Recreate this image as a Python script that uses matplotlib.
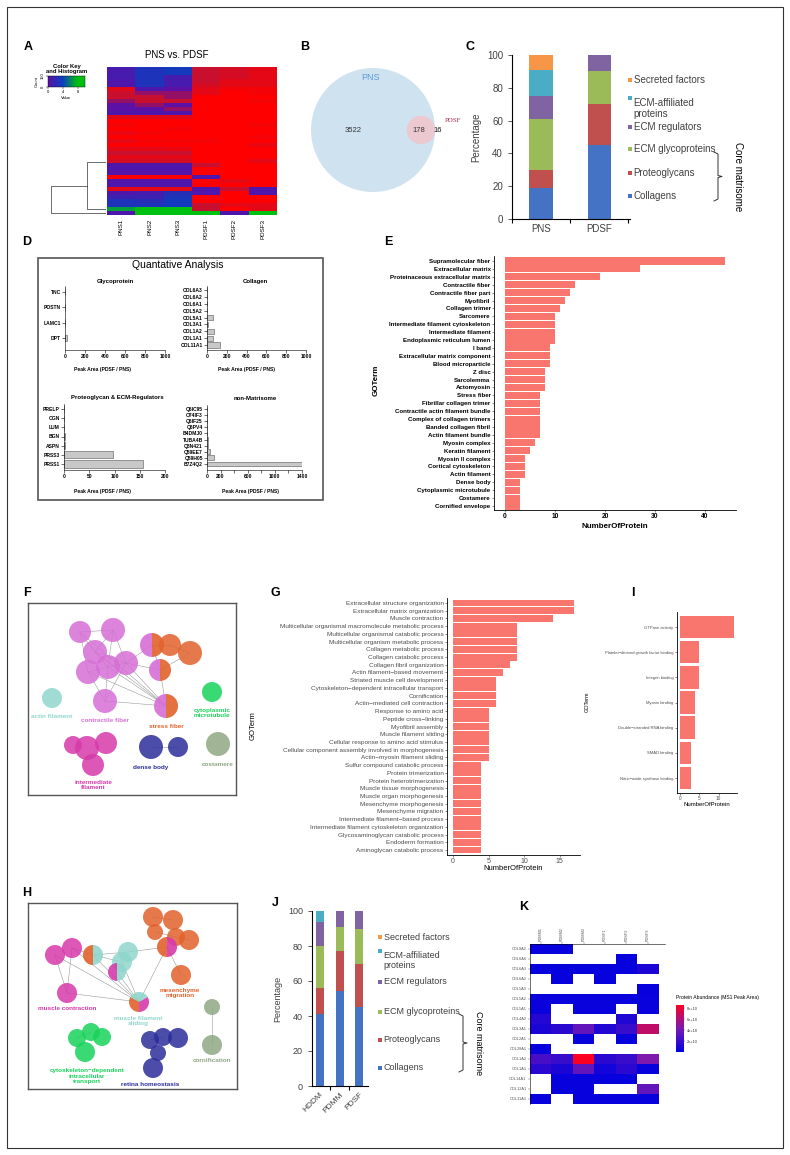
import numpy as np
import matplotlib
matplotlib.use("Agg")
import matplotlib.pyplot as plt
from matplotlib.patches import Rectangle, Circle, Wedge
from matplotlib.colors import LinearSegmentedColormap, Normalize

plt.rcParams['font.family'] = ['Liberation Sans', 'DejaVu Sans']

# ---------------- data ----------------
heat_cols = ['PNS1', 'PNS2', 'PNS3', 'PDSF1', 'PDSF2', 'PDSF3']
heat_vals = [
    [1.0, 3.0, 3.5, -1.0, -1.2, -1.5],
    [1.0, 3.0, 3.5, -1.0, -1.2, -1.5],
    [1.0, 3.0, 1.0, -1.0, -1.2, -1.5],
    [0.5, 3.0, 1.0, -1.0, -1.5, -1.5],
    [0.5, 3.0, 1.0, -1.2, -1.5, -1.5],
    [-1.5, 0.5, 0.0, -1.5, -1.8, -1.8],
    [-1.0, -0.5, -0.5, -1.5, -2.0, -1.8],
    [-1.0, -1.0, -0.5, -2.0, -2.0, -2.0],
    [-0.5, -1.0, -1.0, -2.0, -2.0, -1.8],
    [0.0, -0.5, 0.0, -2.0, -2.0, -2.0],
    [0.0, 0.0, -0.5, -2.0, -2.0, -2.0],
    [0.5, 0.5, 0.5, -2.0, -2.0, -2.0],
    [-1.5, -1.5, -1.5, -2.0, -2.0, -2.0],
    [-2.0, -2.0, -2.0, -2.0, -2.0, -2.0],
    [-1.8, -2.0, -2.0, -2.0, -2.0, -1.8],
    [-2.0, -2.0, -1.8, -2.0, -2.0, -2.0],
    [-1.6, -1.8, -2.0, -2.0, -2.0, -2.0],
    [-2.0, -2.0, -2.0, -2.0, -2.0, -1.8],
    [-1.5, -1.8, -1.8, -1.8, -2.0, -2.0],
    [-2.0, -2.0, -2.0, -2.0, -2.0, -1.6],
    [-1.5, -1.5, -1.6, -2.0, -2.0, -2.0],
    [-1.0, -1.0, -1.0, -2.0, -2.0, -2.0],
    [-1.5, -1.5, -1.5, -2.0, -2.0, -2.0],
    [-1.2, -1.2, -1.2, -2.0, -2.0, -1.5],
    [0.5, 0.5, 0.5, -1.0, -2.0, -2.0],
    [0.5, 0.5, 0.5, -2.0, -2.0, -2.0],
    [0.3, 0.3, 0.3, -2.0, -2.0, -2.0],
    [-2.0, -2.0, -2.0, 0.5, -2.0, -2.0],
    [0.5, 0.5, 0.5, -2.0, -1.5, -2.0],
    [0.5, 0.5, 0.5, -2.0, -2.0, -2.0],
    [-1.5, -1.5, -1.5, 0.5, -1.0, 0.5],
    [0.5, 1.0, 2.5, 0.5, -2.0, 0.5],
    [1.5, 1.5, 3.0, -2.0, -2.0, -2.0],
    [3.0, 2.5, 3.5, -2.0, -2.0, -2.0],
    [3.0, 3.0, 3.5, -1.0, -1.5, -1.5],
    [7.0, 8.0, 8.0, -1.0, -2.0, -1.5],
    [0.5, 8.0, 8.0, 8.0, 0.5, 8.0],
]

venn_only_pns = 3522
venn_shared = 178
venn_only_pdsf = 16

matrisome_cats = ['Collagens', 'Proteoglycans', 'ECM glycoproteins',
                  'ECM regulators', 'ECM-affiliated\nproteins', 'Secreted factors']
matrisome_colors = ['#4472C4', '#C0504D', '#9BBB59', '#8064A2', '#4BACC6', '#F79646']
c_groups = ['PNS', 'PDSF']
pns_pct = [19, 11, 31, 14, 16, 9]
pdsf_pct = [45, 25, 20, 10, 0, 0]

j_groups = ['HDDM', 'PDMM', 'PDSF']
hddm_pct = [41, 15, 24, 14, 6, 0]
pdmm_pct = [54.5, 22.5, 14, 9, 0, 0]

glyco_names = ['TNC', 'POSTN', 'LAMC1', 'DPT']
glyco_vals = [2, 2, 3, 22]
coll_names = ['COL6A3', 'COL6A2', 'COL6A1', 'COL5A2', 'COL5A1', 'COL3A1', 'COL1A2', 'COL1A1', 'COL11A1']
coll_vals = [3, 3, 3, 3, 60, 12, 70, 62, 128]
prot_names = ['PRELP', 'OGN', 'LUM', 'BGN', 'ASPN', 'PRSS3', 'PRSS1']
prot_vals = [0.8, 0.8, 0.8, 1.0, 1.2, 97, 156]
nonm_names = ['Q6IC95', 'O74IF3', 'Q6IF25', 'Q6PV4', 'B4DMJ0', 'TUBA4B', 'Q8N421', 'Q59EE7', 'Q59H05', 'B7Z4Q2']
nonm_vals = [3, 3, 3, 3, 5, 8, 10, 45, 110, 1400]

e_terms = ['Supramolecular fiber', 'Extracellular matrix', 'Proteinaceous extracellular matrix',
           'Contractile fiber', 'Contractile fiber part', 'Myofibril', 'Collagen trimer', 'Sarcomere',
           'Intermediate filament cytoskeleton', 'Intermediate filament', 'Endoplasmic reticulum lumen',
           'I band', 'Extracellular matrix component', 'Blood microparticle', 'Z disc', 'Sarcolemma',
           'Actomyosin', 'Stress fiber', 'Fibrillar collagen trimer', 'Contractile actin filament bundle',
           'Complex of collagen trimers', 'Banded collagen fibril', 'Actin filament bundle', 'Myosin complex',
           'Keratin filament', 'Myosin II complex', 'Cortical cytoskeleton', 'Actin filament', 'Dense body',
           'Cytoplasmic microtubule', 'Costamere', 'Cornified envelope']
e_counts = [44, 27, 19, 14, 13, 12, 11, 10, 10, 10, 10, 9, 9, 9, 8, 8, 8, 7, 7, 7, 7, 7, 7, 6, 5, 4, 4, 4,
            3, 3, 3, 3]

g_terms = ['Extracellular structure organization', 'Extracellular matrix organization', 'Muscle contraction',
           'Multicellular organismal macromolecule metabolic process',
           'Multicellular organismal catabolic process', 'Multicellular organism metabolic process',
           'Collagen metabolic process', 'Collagen catabolic process', 'Collagen fibril organization',
           'Actin filament\u2212based movement', 'Striated muscle cell development',
           'Cytoskeleton\u2212dependent intracellular transport', 'Cornification',
           'Actin\u2212mediated cell contraction', 'Response to amino acid', 'Peptide cross\u2212linking',
           'Myofibril assembly', 'Muscle filament sliding', 'Cellular response to amino acid stimulus',
           'Cellular component assembly involved in morphogenesis', 'Actin\u2212myosin filament sliding',
           'Sulfur compound catabolic process', 'Protein trimerization', 'Protein heterotrimerization',
           'Muscle tissue morphogenesis', 'Muscle organ morphogenesis', 'Mesenchyme morphogenesis',
           'Mesenchyme migration', 'Intermediate filament\u2212based process',
           'Intermediate filament cytoskeleton organization', 'Glycosaminoglycan catabolic process',
           'Endoderm formation', 'Aminoglycan catabolic process']
g_counts = [17, 17, 14, 9, 9, 9, 9, 9, 8, 7, 6, 6, 6, 6, 5, 5, 5, 5, 5, 5, 5, 4, 4, 4, 4, 4, 4, 4, 4, 4,
            4, 4, 4]

i_terms = ['GTPase activity', 'Platelet\u2212derived growth factor binding', 'Integrin binding',
           'Myosin binding', 'Double\u2212stranded RNA binding', 'SMAD binding', 'Nitric\u2212oxide synthase binding']
i_counts = [14, 5, 5, 4, 4, 3, 3]

k_cols = ['PDMM1', 'PDMM2', 'PDMM3', 'PDSF1', 'PDSF2', 'PDSF3']
k_rows = ['COL8A2', 'COL6A6', 'COL6A3', 'COL6A2', 'COL5A3', 'COL5A2', 'COL5A1', 'COL4A2', 'COL3A1',
          'COL2A1', 'COL28A1', 'COL1A2', 'COL1A1', 'COL14A1', 'COL12A1', 'COL11A1']
nan = np.nan
k_vals = [  # MS1 peak area, x 1e10
    [0.3, 0.3, nan, nan, nan, nan],
    [nan, nan, nan, nan, 0.3, nan],
    [0.3, 0.3, 0.3, 0.3, 0.3, 1.0],
    [nan, 0.3, nan, 0.3, nan, nan],
    [nan, nan, nan, nan, nan, 0.3],
    [0.4, 0.4, 0.4, 0.4, 0.4, 0.4],
    [0.4, nan, 0.4, 0.4, nan, 0.4],
    [1.3, nan, nan, nan, 1.2, nan],
    [1.0, 1.5, 3.5, 1.2, 2.0, 6.5],
    [nan, nan, 0.3, nan, 0.3, nan],
    [0.3, nan, nan, nan, nan, nan],
    [2.5, 2.0, 8.5, 1.5, 2.0, 4.5],
    [1.5, 1.0, 3.5, 0.7, 1.5, 0.3],
    [nan, 0.3, 0.3, 0.3, 0.3, nan],
    [nan, 0.3, 0.3, nan, nan, 3.5],
    [0.3, nan, 0.3, 0.3, 0.3, 0.3],
]

# network layouts (pixels inside the box): x, y, radius, colour keys
violet, orange, teal, green = '#d66fd6', '#e2622b', '#8fd6cc', '#19d35a'
magenta, navy, sage = '#d63aaa', '#2b2e9a', '#8fa784'
f_nodes = [
    (52, 29, 11, [violet]), (85, 27, 12, [violet]), (67, 49, 12, [violet]), (60, 69, 12, [violet]),
    (80, 64, 12, [violet]), (98, 60, 12, [violet]), (124, 42, 12, [violet, orange]),
    (132, 67, 11, [violet, orange]), (142, 42, 11, [orange]), (162, 50, 12, [orange]),
    (138, 103, 12, [violet, orange]), (77, 98, 12, [violet]), (24, 95, 10, [teal]),
    (184, 89, 10, [green]), (45, 142, 9, [magenta]), (59, 145, 12, [magenta]), (78, 140, 11, [magenta]),
    (65, 162, 11, [magenta]), (123, 144, 12, [navy]), (150, 144, 10, [navy]), (190, 141, 12, [sage]),
]
f_edges = [(0, 1), (0, 2), (0, 3), (1, 2), (1, 4), (1, 5), (2, 4), (2, 5), (3, 4), (3, 11), (4, 5), (4, 11),
           (5, 6), (5, 7), (5, 11), (6, 7), (6, 8), (7, 9), (8, 9), (0, 10), (2, 10), (3, 10), (4, 10),
           (5, 10), (7, 10), (11, 10), (18, 19)]
f_labels = [(24, 113, 'actin filament', teal), (77, 118, 'contractile fiber', violet),
            (138, 124, 'stress fiber', orange), (184, 110, 'cytoplasmic\nmicrotubule', green),
            (65, 182, 'intermediate\nfilament', magenta), (123, 165, 'dense body', navy),
            (190, 161, 'costamere', sage)]

h_nodes = [
    (125, 14, 10, [orange]), (145, 17, 10, [orange]), (127, 29, 8, [orange]), (148, 34, 9, [orange]),
    (161, 37, 10, [orange]), (153, 72, 10, [orange]), (139, 44, 10, [orange, magenta]),
    (27, 52, 10, [magenta]), (44, 45, 10, [magenta]), (39, 90, 10, [magenta]),
    (65, 52, 10, [orange, teal]), (100, 49, 10, [teal]), (94, 59, 10, [teal]),
    (89, 69, 9, [magenta, teal]), (111, 99, 10, [orange, teal, magenta]),
    (184, 104, 8, [sage]), (184, 142, 10, [sage]),
    (49, 135, 9, [green]), (63, 129, 9, [green]), (74, 134, 9, [green]), (57, 149, 10, [green]),
    (122, 137, 9, [navy]), (135, 134, 9, [navy]), (150, 135, 10, [navy]), (130, 150, 8, [navy]),
    (125, 165, 10, [navy]),
]
h_edges = [(7, 14), (8, 14), (10, 14), (9, 14), (7, 9), (8, 9), (8, 10), (10, 12), (11, 6), (14, 6),
           (5, 6), (0, 1), (2, 3), (3, 4), (12, 14), (13, 14), (15, 16), (10, 11), (17, 18), (21, 22)]
h_labels = [(152, 90, 'mesenchyme\nmigration', orange), (39, 106, 'muscle contraction', magenta),
            (110, 118, 'muscle filament\nsliding', teal), (184, 158, 'cornification', sage),
            (59, 173, 'cytoskeleton\u2212dependent\nintracellular\ntransport', green),
            (122, 181, 'retina homeostasis', navy)]

# ---------------- figure ----------------
W, H = 790, 1155
fig = plt.figure(figsize=(W / 100, H / 100), dpi=100)


def px_axes(x0, y0, x1, y1):
    return fig.add_axes([x0 / W, 1 - y1 / H, (x1 - x0) / W, (y1 - y0) / H])


def rows_axes(x0, x1, first_y, last_y, n, top_pad, bot_pad):
    s = (last_y - first_y) / (n - 1)
    ax = px_axes(x0, first_y - top_pad, x1, last_y + bot_pad)
    ax.set_ylim(n - 1 + bot_pad / s, -top_pad / s)
    return ax


canvas = px_axes(0, 0, W, H)
canvas.set_xlim(0, W)
canvas.set_ylim(H, 0)
canvas.axis('off')
canvas.set_zorder(10)
canvas.patch.set_alpha(0)
canvas.add_patch(Rectangle((7, 7), 776, 1141, fill=False, ec='#333333', lw=0.8))

for letter, x, y in [('A', 28, 47), ('B', 305, 47), ('C', 470, 47), ('D', 27, 242), ('E', 388, 242),
                     ('F', 27, 593), ('G', 275, 593), ('I', 633, 593), ('H', 27, 893), ('J', 275, 903),
                     ('K', 524, 907)]:
    canvas.text(x, y, letter, fontsize=9, fontweight='bold', ha='center', va='center')

# ---- A: heatmap ----
hm = np.array(heat_vals)
heat_cmap = LinearSegmentedColormap.from_list('heat', [
    (0.0, '#ff0000'), (1 / 11, '#c8102e'), (2 / 11, '#5a10a8'), (6 / 11, '#0a40c0'),
    (10 / 11, '#00c010'), (1.0, '#00c010')])
heat_norm = Normalize(-2, 9)
ax = px_axes(107, 67, 277, 215)
ax.imshow(hm, cmap=heat_cmap, norm=heat_norm, aspect='auto', interpolation='nearest',
          extent=(0, hm.shape[1], hm.shape[0], 0))
ax.set_yticks([])
ax.set_xticks(np.arange(hm.shape[1]) + 0.5)
ax.set_xticklabels(heat_cols, rotation=90, fontsize=4.5)
ax.tick_params(axis='x', length=0, pad=3)
for s in ax.spines.values():
    s.set_visible(False)
canvas.text(177, 55, 'PNS vs. PDSF', fontsize=7, ha='center', va='center')

# dendrogram: merge neighbouring rows step by step (heights compressed like hclust display)
dax = px_axes(50, 67, 106, 215)
clusters = [(r.copy(), i + 0.5, 0.0, 1) for i, r in enumerate(hm)]
hmax = 0
while len(clusters) > 1:
    d = [np.linalg.norm(clusters[i][0] - clusters[i + 1][0]) for i in range(len(clusters) - 1)]
    k = int(np.argmin(d))
    (m1, y1, h1, n1), (m2, y2, h2, n2) = clusters[k], clusters[k + 1]
    h = max(d[k] ** 4, h1, h2)
    dax.plot([h1, h, h, h2], [y1, y1, y2, y2], color='k', lw=0.4)
    clusters[k:k + 2] = [((m1 * n1 + m2 * n2) / (n1 + n2), (y1 + y2) / 2, h, n1 + n2)]
    hmax = h
dax.set_xlim(hmax * 1.02, 0)
dax.set_ylim(hm.shape[0], 0)
dax.axis('off')

# colour key
kax = px_axes(48, 76, 85, 87)
kax.imshow(np.linspace(0, 10, 100)[None, :], cmap=heat_cmap, norm=heat_norm, aspect='auto',
           extent=(0, 10, 0, 1))
kax.set_xticks([0, 4, 8])
kax.set_yticks([0, 1])
kax.set_yticklabels(['0', '150'], rotation=90, va='center')
kax.tick_params(labelsize=3, length=1.5, width=0.3, pad=1)
kax.set_xlabel('Value', fontsize=3, labelpad=1)
kax.set_ylabel('Count', fontsize=3, labelpad=1)
for s in kax.spines.values():
    s.set_linewidth(0.3)
canvas.text(67, 69, 'Color Key\nand Histogram', fontsize=4.2, fontweight='bold', ha='center',
            va='center', linespacing=1.0)

# ---- B: venn ----
scale = 62 / np.sqrt(venn_only_pns + venn_shared)
r_big = scale * np.sqrt(venn_only_pns + venn_shared)
r_small = scale * np.sqrt(venn_shared + venn_only_pdsf)
cx, cy = 373, 130
canvas.add_patch(Circle((cx, cy), r_big, color='#cfe2f0', lw=0))
canvas.add_patch(Circle((cx + 48, cy), r_small, color='#f2c4cb', alpha=0.85, lw=0))
canvas.text(cx - 3, 77, 'PNS', color='#5b9bd5', fontsize=6.5, ha='center', va='center')
canvas.text(445, 120, 'PDSF', color='#a0304a', fontsize=5, family='Liberation Serif', ha='left',
            va='center')
canvas.text(353, 131, str(venn_only_pns), fontsize=5.5, ha='center', va='center', color='#333333')
canvas.text(419, 131, str(venn_shared), fontsize=5.5, ha='center', va='center', color='#333333')
canvas.text(438, 131, str(venn_only_pdsf), fontsize=5.5, ha='center', va='center', color='#111111')


# ---- C / J stacked bars ----
def stacked(ax, groups, series, width):
    x = np.arange(len(groups))
    bottom = np.zeros(len(groups))
    for ci, col in enumerate(matrisome_colors):
        vals = np.array([s[ci] for s in series])
        ax.bar(x, vals, width, bottom=bottom, color=col, lw=0)
        bottom += vals
    ax.set_ylim(0, 100)
    ax.set_yticks(range(0, 101, 20))
    ax.set_xticks(x)
    ax.set_xticks(np.arange(len(groups) + 1) - 0.5, minor=True)
    ax.tick_params(axis='x', which='major', length=0)
    ax.tick_params(axis='x', which='minor', length=3, width=0.8)
    ax.tick_params(axis='y', length=3, width=0.6, colors='#404040')
    for s in ['top', 'right']:
        ax.spines[s].set_visible(False)
    for s in ['left', 'bottom']:
        ax.spines[s].set_linewidth(0.8)
    ax.set_ylabel('Percentage', fontsize=7, color='#404040')


def matrisome_legend(x, ys, fs, bracket_x, b_top, b_bot, core_x):
    for cat, col, y in zip(matrisome_cats[::-1], matrisome_colors[::-1], ys):
        canvas.add_patch(Rectangle((x, y - 2), 4, 4, color=col, lw=0))
        canvas.text(x + 5.5, y, cat, fontsize=fs, va='top' if '\n' in cat else 'center',
                    color='#404040', linespacing=1.1)
    mid = (b_top + b_bot) / 2
    canvas.plot([bracket_x - 4, bracket_x, bracket_x, bracket_x + 4, bracket_x, bracket_x, bracket_x - 4],
                [b_top, b_top + 2, mid - 1, mid, mid + 1, b_bot - 2, b_bot], color='#333333', lw=0.7)
    canvas.text(core_x, mid, 'Core matrisome', rotation=270, fontsize=fs, ha='center', va='center')


ax = px_axes(512, 55, 630, 219)
stacked(ax, c_groups, [pns_pct, pdsf_pct], 0.4)
ax.set_xlim(-0.5, 1.53)
ax.set_xticklabels(c_groups, fontsize=7, color='#404040')
ax.tick_params(axis='y', labelsize=7)
matrisome_legend(628, [80, 98, 127, 149, 173, 196], 7, 718, 152, 201, 738)

ax = px_axes(312, 911, 368, 1086)
stacked(ax, j_groups, [hddm_pct, pdmm_pct, pdsf_pct], 0.41)
ax.set_xlim(-0.41, 2.46)
ax.set_xticklabels(j_groups, fontsize=6, rotation=45, ha='right', rotation_mode='anchor',
                   color='#404040')
ax.tick_params(axis='y', labelsize=6.5)
ax.yaxis.label.set_size(6.5)
matrisome_legend(378, [937, 951, 982, 1012, 1040, 1068], 6.5, 463, 1014, 1072, 478)

# ---- D: quantitative analysis ----
canvas.add_patch(Rectangle((38, 258), 285, 242, fill=False, ec='#555555', lw=1.2))
canvas.text(178, 265, 'Quantative Analysis', fontsize=7.5, ha='center', va='center')


def quant(x0, x1, fy, ly, tp, bp, names, vals, xmax, ticks, labels, bh):
    ax = rows_axes(x0, x1, fy, ly, len(names), tp, bp)
    ax.barh(range(len(names)), vals, height=bh, color='#c8c8c8', edgecolor='#555555', lw=0.4)
    ax.set_xlim(0, xmax)
    ax.set_yticks(range(len(names)))
    ax.set_yticklabels(names)
    ax.set_xticks(ticks)
    ax.set_xticklabels(labels)
    ax.tick_params(labelsize=3.6, length=2, width=0.4, pad=1)
    for t in ax.get_xticklabels() + ax.get_yticklabels():
        t.set_fontweight('bold')
    for s in ['top', 'right']:
        ax.spines[s].set_visible(False)
    for s in ['left', 'bottom']:
        ax.spines[s].set_linewidth(0.4)
    return ax


quant(65, 165, 292, 338, 6, 12, glyco_names, glyco_vals, 1000, range(0, 1001, 200),
      [str(v) for v in range(0, 1001, 200)], 0.45)
quant(207, 306, 290, 345, 4, 5, coll_names, coll_vals, 1000, range(0, 1001, 200),
      [str(v) for v in range(0, 1001, 200)], 0.75)
quant(64, 165, 409, 464, 5, 6, prot_names, prot_vals, 200, range(0, 201, 50),
      [str(v) for v in range(0, 201, 50)], 0.8)
quant(207, 302, 409, 464, 4, 6, nonm_names, nonm_vals, 1400, range(0, 1401, 200),
      ['0', '200', '', '600', '', '1000', '', '1400'], 0.8)
for x, y, t in [(115, 281, 'Glycoprotein'), (255, 281, 'Collagen'),
                (117, 398, 'Proteoglycan & ECM-Regulators'), (255, 398, 'non-Matrisome')]:
    canvas.text(x, y, t, fontsize=4.3, fontweight='bold', ha='center', va='center')
for x, y in [(102, 370), (247, 370), (102, 491), (250, 491)]:
    canvas.text(x, y, 'Peak Area (PDSF / PNS)', fontsize=3.6, fontweight='bold', ha='center', va='center')


# ---- E / G / I : GO term bars ----
def go_bars(ax, terms, counts, xmax, ticks, fs, tcol, bold):
    ax.barh(range(len(terms)), counts, height=0.9, color='#F8766D', lw=0)
    ax.set_xlim(-xmax * 0.05, xmax * 1.05)
    ax.set_yticks(range(len(terms)))
    ax.set_yticklabels(terms)
    ax.set_xticks(ticks)
    ax.tick_params(axis='y', labelsize=fs, length=1.5, width=0.4, pad=1, colors=tcol)
    ax.tick_params(axis='x', labelsize=fs + 0.4, length=1.5, width=0.4, pad=1, colors=tcol)
    ax.tick_params(axis='both', color='#333333')
    if bold:
        for t in ax.get_xticklabels() + ax.get_yticklabels():
            t.set_fontweight('bold')
    for s in ['top', 'right']:
        ax.spines[s].set_visible(False)
    for s in ['left', 'bottom']:
        ax.spines[s].set_linewidth(0.6)


ax = rows_axes(494, 736, 261, 506, len(e_terms), 5, 4)
go_bars(ax, e_terms, e_counts, 44, [0, 10, 20, 30, 40], 4.4, 'black', True)
canvas.text(615, 526, 'NumberOfProtein', fontsize=5.8, fontweight='bold', ha='center', va='center')
canvas.text(376, 380, 'GOTerm', fontsize=5.8, fontweight='bold', rotation=90, ha='center', va='center')

ax = rows_axes(447, 580, 603, 850, len(g_terms), 5, 5)
go_bars(ax, g_terms, g_counts, 17, [0, 5, 10, 15], 4.6, '#4d4d4d', False)
canvas.text(513, 868, 'NumberOfProtein', fontsize=5.5, ha='center', va='center')
canvas.text(253, 726, 'GOTerm', fontsize=5.5, rotation=90, ha='center', va='center')

ax = rows_axes(677, 737, 627, 778, len(i_terms), 15, 15)
go_bars(ax, i_terms, i_counts, 14, [0, 5, 10], 3.0, '#4d4d4d', False)
canvas.text(707, 804, 'NumberOfProtein', fontsize=4.3, ha='center', va='center')
canvas.text(587, 702, 'GOTerm', fontsize=4, rotation=90, ha='center', va='center')


# ---- F / H : networks ----
def network(x0, y0, x1, y1, nodes, edges, labels):
    ax = px_axes(x0, y0, x1, y1)
    ax.set_xlim(0, x1 - x0)
    ax.set_ylim(y1 - y0, 0)
    ax.set_xticks([])
    ax.set_yticks([])
    for s in ax.spines.values():
        s.set_color('#555555')
        s.set_linewidth(1.0)
    for a, b in edges:
        ax.plot([nodes[a][0], nodes[b][0]], [nodes[a][1], nodes[b][1]], color='#9a9a9a', lw=0.4, zorder=1)
    for x, y, r, cols in nodes:
        if len(cols) == 1:
            ax.add_patch(Circle((x, y), r, color=cols[0], alpha=0.85, lw=0, zorder=2))
        else:
            step = 360 / len(cols)
            for i, c in enumerate(cols):
                ax.add_patch(Wedge((x, y), r, 90 + i * step, 90 + (i + 1) * step, color=c, alpha=0.9,
                                   lw=0, zorder=2))
    for x, y, t, c in labels:
        ax.text(x, y, t, color=c, fontsize=4.6, fontweight='bold', ha='center', va='center',
                linespacing=1.1, zorder=3)


network(28, 603, 236, 795, f_nodes, f_edges, f_labels)
network(28, 903, 237, 1089, h_nodes, h_edges, h_labels)

# ---- K: collagen abundance heatmap ----
kv = np.ma.masked_invalid(np.array(k_vals))
k_cmap = LinearSegmentedColormap.from_list('k', ['#0000e0', '#7a1ab4', '#ff0020'])
k_cmap.set_bad('white')
ax = px_axes(530, 944, 665, 1104)
im = ax.imshow(kv, cmap=k_cmap, vmin=0, vmax=8.6, aspect='auto', interpolation='nearest',
               extent=(0, len(k_cols), len(k_rows), 0))
ax.set_xticks(np.arange(len(k_cols)) + 0.5)
ax.set_xticklabels(k_cols, rotation=90)
ax.xaxis.tick_top()
ax.set_yticks(np.arange(len(k_rows)) + 0.5)
ax.set_yticklabels(k_rows)
ax.tick_params(labelsize=2.8, length=1.5, width=0.3, pad=1, colors='#555555')
ax.set_xlim(0, len(k_cols) + 0.3)
for s in ['bottom', 'right']:
    ax.spines[s].set_visible(False)
for s in ['left', 'top']:
    ax.spines[s].set_linewidth(0.4)
cax = px_axes(676, 1005, 684, 1052)
cb = fig.colorbar(im, cax=cax, ticks=[2, 4, 6, 8])
cb.ax.set_yticklabels(['2e+10', '4e+10', '6e+10', '8e+10'])
cb.ax.tick_params(labelsize=2.8, length=1, width=0.3, pad=1, colors='#333333')
cb.outline.set_visible(False)
canvas.text(676, 998, 'Protein Abundance (MS1 Peak Area)', fontsize=3.6, ha='left', va='center')

fig.savefig('out.png', dpi=100)
